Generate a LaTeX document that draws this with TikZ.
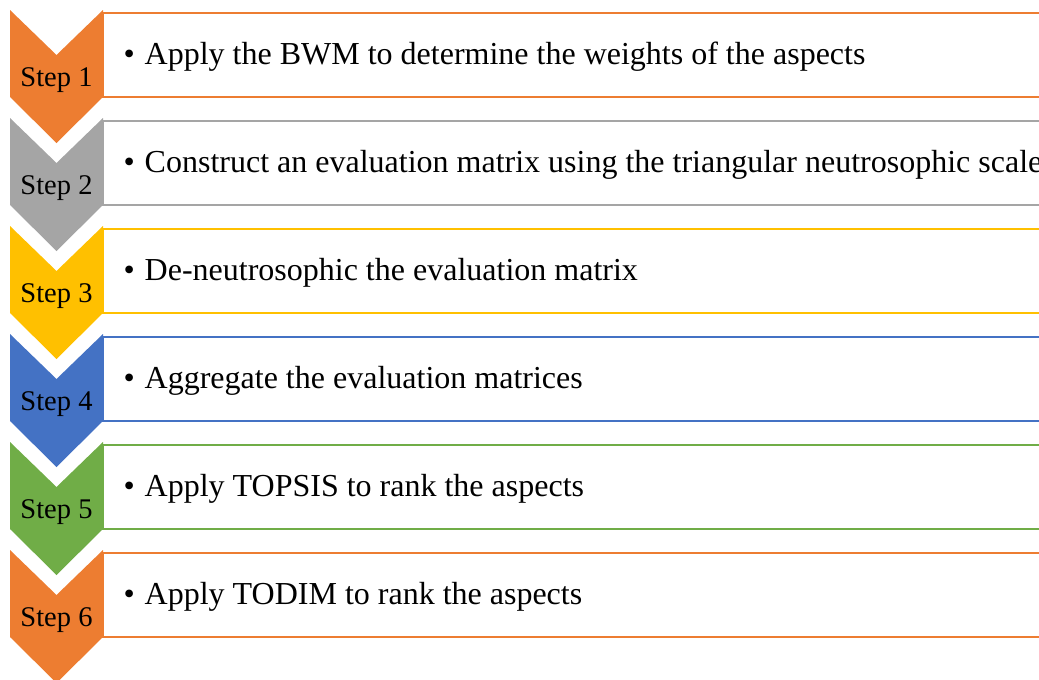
\documentclass[tikz,border=0pt]{standalone}
\usepackage{fontspec}
\setmainfont{Liberation Serif}
\definecolor{orangeA}{HTML}{ED7D31}
\definecolor{greyA}{HTML}{A5A5A5}
\definecolor{goldA}{HTML}{FFC000}
\definecolor{blueA}{HTML}{4472C4}
\definecolor{greenA}{HTML}{70AD47}
\tikzset{
	stepbox/.style={line width=2.6pt, fill=white},
	steplabel/.style={anchor=base, font=\fontsize{28.5}{32}\selectfont},
	steptext/.style={anchor=base west, font=\fontsize{32}{36}\selectfont}
}

\begin{document}
\begin{tikzpicture}[x=1pt,y=-1pt]
			\useasboundingbox (0,0) rectangle (1039,680);
			\clip (0,0) rectangle (1039,680);
			\foreach \n/\col/\txt in {1/orangeA/Apply the BWM to determine the weights of the aspects,
				2/greyA/Construct an evaluation matrix using the triangular neutrosophic scale,
				3/goldA/De-neutrosophic the evaluation matrix,
				4/blueA/Aggregate the evaluation matrices,
				5/greenA/Apply TOPSIS to rank the aspects,
				6/orangeA/Apply TODIM to rank the aspects}{
				\pgfmathsetmacro{\t}{10+108*(\n-1)}
				\draw[stepbox, draw=\col] (103,\t+3) rectangle (1080,\t+87);
				\fill[\col] (10,\t) -- (56.5,\t+45) -- (103,\t) -- (103,\t+87) -- (56.5,\t+133) -- (10,\t+87) -- cycle;
				\node[steplabel] (step\n) at (56.5,\t+76) {Step \n};
				\node[steptext] (task\n) at (120,\t+54) {\textbullet\hspace{10pt}\txt};
			}
		\end{tikzpicture}
\end{document}
